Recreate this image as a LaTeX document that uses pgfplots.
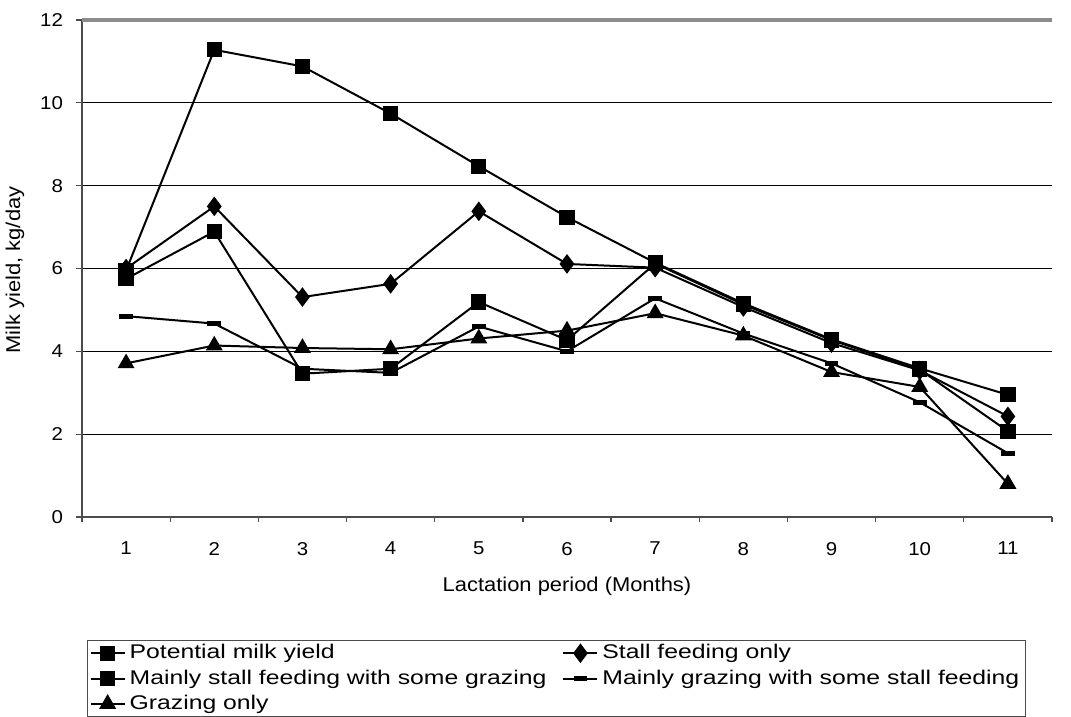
\documentclass[border=0pt]{standalone}
\usepackage{fontspec}
\setmainfont[FakeStretch=1.1]{Liberation Sans}
\newfontfamily\legfont[FakeStretch=1.25]{Liberation Sans}
\usepackage{pgfplots}
\pgfplotsset{compat=1.18}
\pgfplotstableread{
x pot stall mstall mgraz graz
1 5.95 6.00 5.75 4.85 3.71
2 11.28 7.50 6.89 4.67 4.14
3 10.88 5.31 3.46 3.58 4.08
4 9.74 5.63 3.58 3.48 4.05
5 8.47 7.38 5.19 4.60 4.31
6 7.24 6.11 4.27 4.00 4.50
7 6.14 6.02 6.12 5.28 4.92
8 5.16 5.07 5.13 4.43 4.38
9 4.29 4.20 4.27 3.71 3.50
10 3.59 3.54 3.56 2.77 3.14
11 2.95 2.43 2.07 1.54 0.80
}\datatable
\begin{document}
\begin{tikzpicture}
\path[use as bounding box] (-41bp,-100bp) rectangle (494.5bp,258.5bp);
\begin{axis}[
  at={(0,0)}, anchor=south west,
  scale only axis, width=485bp, height=248.5bp,
  xmin=0.5, xmax=11.5, ymin=0, ymax=12,
  xtick={1,...,11}, minor xtick={0.5,1.5,...,11.5},
  ytick={0,2,...,10}, extra y ticks={12},
  extra y tick style={grid style={draw=black!45, line width=1.6bp}},
  axis x line*=bottom, axis y line*=left,
  axis line style={draw=black!70, line width=1bp, -},
  tick align=outside, major tick length=3bp, minor tick length=2.5bp,
  every major x tick/.append style={draw=none},
  tick style={draw=black!70, line width=0.6bp},
  ymajorgrids, grid style={draw=black, line width=0.6bp},
  /pgf/number format/assume math mode=true,
  tick label style={font=\fontsize{9.3bp}{11bp}\selectfont},
  yticklabel style={xshift=-3bp},
  xticklabel style={yshift=-6bp},
  label style={font=\fontsize{9.6bp}{11bp}\selectfont},
  xlabel={Lactation period (Months)},
  ylabel={Milk yield, kg/day},
  every axis x label/.style={at={(axis description cs:0.5,-0.1388)}, anchor=center},
  every axis y label/.style={at={(axis description cs:-0.0691,0.497)}, rotate=90, anchor=center},
  legend columns=2,
  legend cell align=left,
  legend style={at={(axis description cs:0.0052,-0.2475)}, anchor=north west,
    draw=black!70, line width=0.6bp, font=\legfont\fontsize{9.9bp}{11.75bp}\selectfont,
    inner xsep=1bp, inner ysep=0bp, /tikz/every even column/.append style={column sep=6bp}},
  every axis plot/.append style={black, line width=1bp},
]
\addplot[mark=square*, mark size=3.3bp] table[x=x,y=pot] {\datatable};
\addlegendentry{Potential milk yield}
\addplot[mark=diamond*, mark size=4.1bp] table[x=x,y=stall] {\datatable};
\addlegendentry{Stall feeding only}
\addplot[mark=square*, mark size=3.3bp] table[x=x,y=mstall] {\datatable};
\addlegendentry{Mainly stall feeding with some grazing}
\addplot[mark=-, mark size=3.4bp, mark options={line width=2.4bp}] table[x=x,y=mgraz] {\datatable};
\addlegendentry{Mainly grazing with some stall feeding}
\addplot[mark=triangle*, mark size=3.9bp] table[x=x,y=graz] {\datatable};
\addlegendentry{Grazing only}
\end{axis}
\end{tikzpicture}
\end{document}
